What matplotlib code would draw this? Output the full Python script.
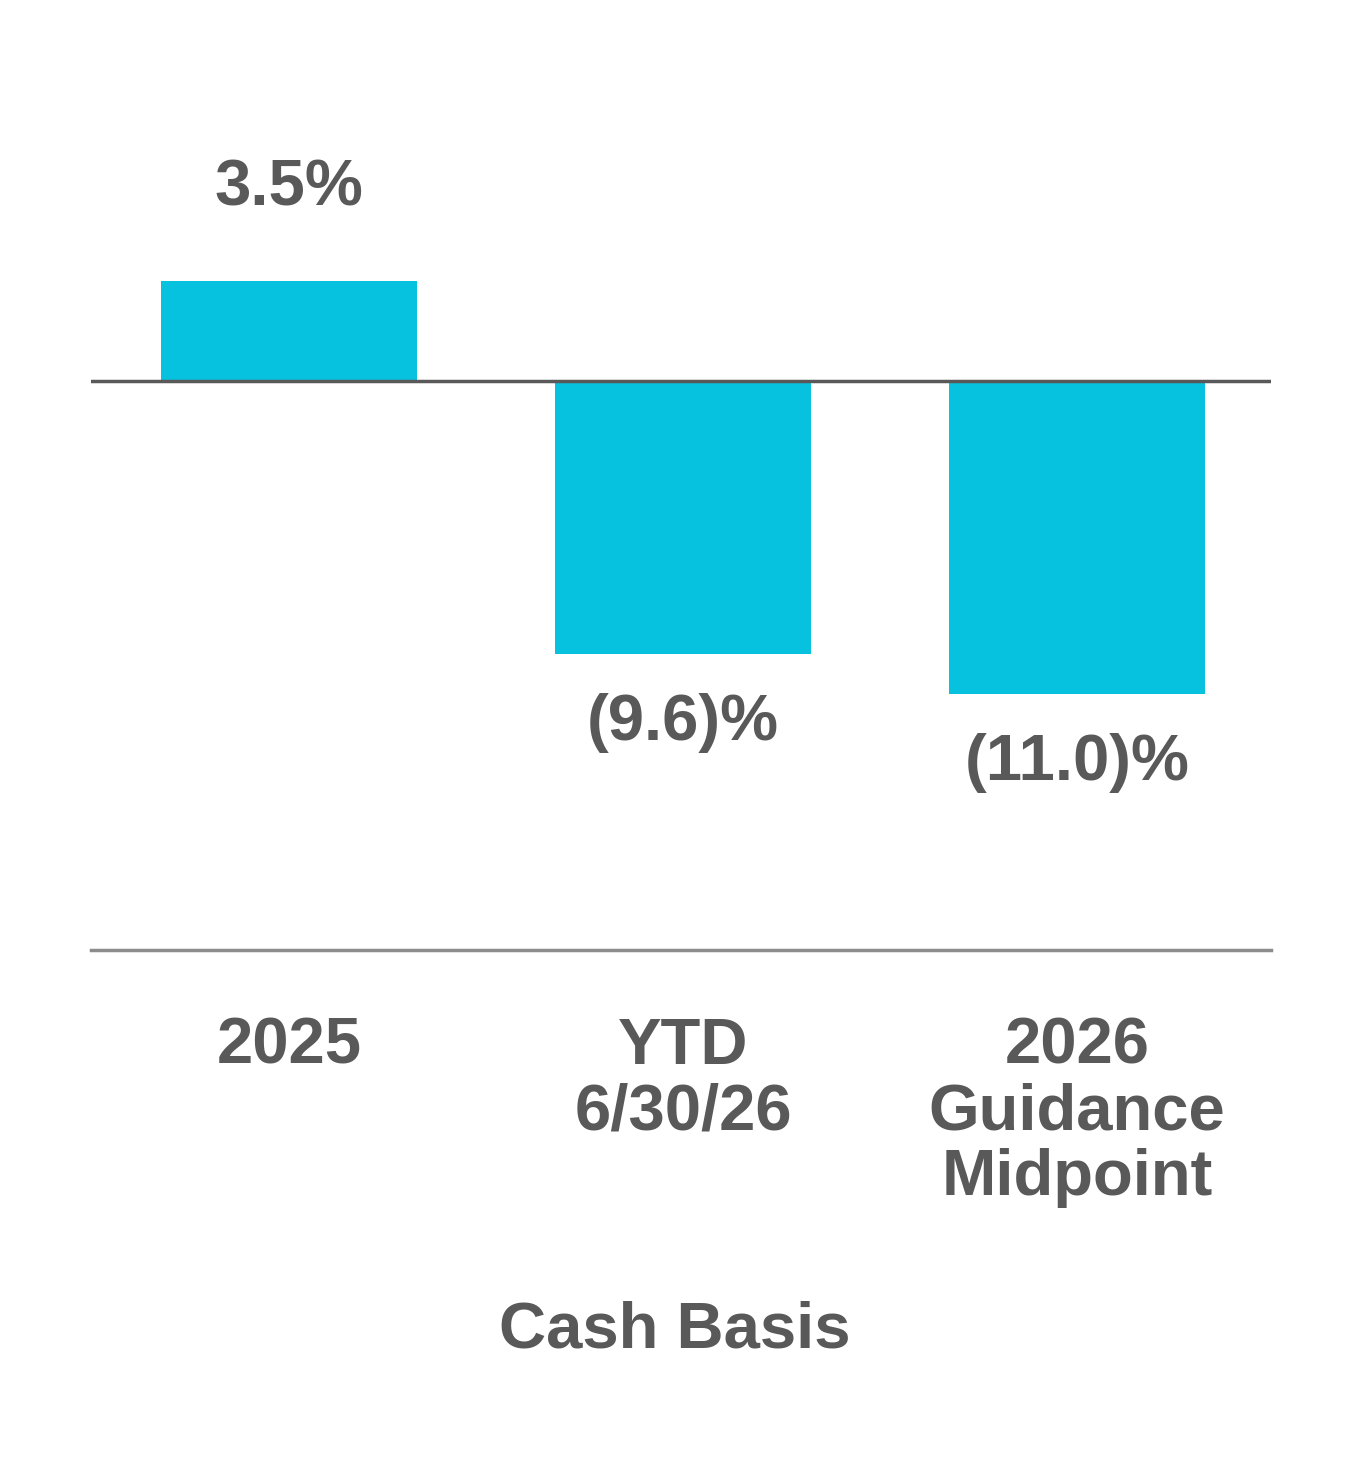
import matplotlib
matplotlib.use("Agg")
import matplotlib.pyplot as plt

categories = ["2025", "YTD\n6/30/26", "2026\nGuidance\nMidpoint"]
values = [3.5, -9.6, -11.0]
labels = ["3.5%", "(9.6)%", "(11.0)%"]
xlabel = "Cash Basis"

W, H = 1362, 1458
fig = plt.figure(figsize=(W/100, H/100), dpi=100)
ax = fig.add_axes([91/W, 1-950/H, 1180/W, 850/H])
col = "#595959"
font = dict(family=["Liberation Sans", "DejaVu Sans"], weight="bold", color=col, fontsize=47)

xs = list(range(len(values)))
ax.bar(xs, values, width=0.65, color="#07C2DE", zorder=2)
ax.axhline(0, color="#595959", lw=2.5, zorder=3)
ax.set_xlim(-0.5025, 2.492)
ax.set_ylim(-20, 9.86)
for s in ["top", "right", "left"]:
    ax.spines[s].set_visible(False)
ax.spines["bottom"].set_color("#8c8c8c")
ax.spines["bottom"].set_linewidth(2.5)
ax.set_yticks([])
ax.set_xticks([])

for x, v, l in zip(xs, values, labels):
    if v >= 0:
        ax.annotate(l, (x, v), xytext=(0, 45), textcoords="offset points", ha="center", va="bottom", **font)
    else:
        ax.annotate(l, (x, v), xytext=(0, -28), textcoords="offset points", ha="center", va="top", **font)

for x, c in zip(xs, categories):
    ax.annotate(c, (x, 0), xycoords=("data", "axes fraction"), xytext=(0, -48), textcoords="offset points",
                ha="center", va="top", linespacing=1.12, **font)

fig.text(675/W, 1-1330/H, xlabel, ha="center", va="center", **font)
fig.savefig("out.png", dpi=100, facecolor="white")
